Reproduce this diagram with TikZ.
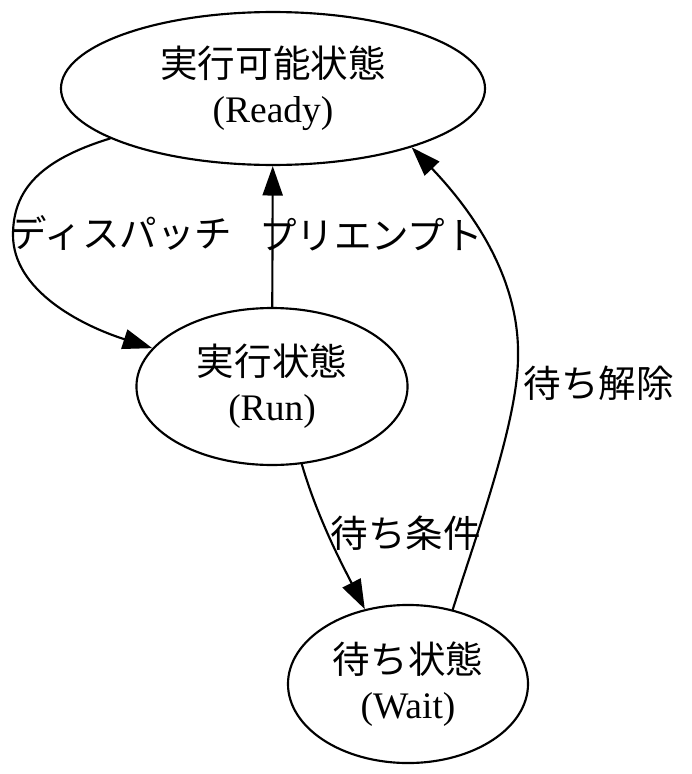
\documentclass[tikz,border=0pt]{standalone}
\usepackage{fontspec}
\setmainfont{Liberation Serif}
\newfontfamily\jp{Noto Sans CJK JP}
\usetikzlibrary{arrows.meta,shapes.geometric}
\begin{document}
\begin{tikzpicture}[x=0.3733pt, y=-0.3733pt, line join=round, line cap=round, line width=0.8pt,
>={Triangle[length=11pt,width=7.5pt]}, font=\fontsize{14}{16.8}\selectfont,
state/.style={draw, ellipse, inner sep=0pt, align=center},
lbl/.style={inner sep=0pt, font=\fontsize{14}{16.8}\selectfont\jp}]
\useasboundingbox (0,0) rectangle (692,774);
\node[state, minimum width=158.3pt, minimum height=57.1pt] (Ready) at (273,88.5) {{\jp 実行可能状態}\\(Ready)};
\node[state, minimum width=101.2pt, minimum height=58.6pt] (Run) at (272,386.5) {{\jp 実行状態}\\(Run)};
\node[state, minimum width=89.6pt, minimum height=59pt] (Wait) at (408,684) {{\jp 待ち状態}\\(Wait)};
\draw[->] (Ready) .. controls (40,160) and (13,190) .. (13,235) .. controls (13,290) and (80,325) .. (Run);
\draw[->] (Run) -- (Ready);
\draw[->] (Run.-69.6) .. controls (318,520) and (345,570) .. (Wait.120);
\draw[->] (Wait.59) .. controls (478,530) and (518,420) .. (518,357) .. controls (520,270) and (462,200) .. (Ready.-23.6);
\node[lbl] (lDispatch) at (121,233) {ディスパッチ};
\node[lbl] (lPreempt) at (371,235) {プリエンプト};
\node[lbl] (lCond) at (405.5,533) {待ち条件};
\node[lbl] (lRelease) at (598.5,383) {待ち解除};
\end{tikzpicture}
\end{document}
